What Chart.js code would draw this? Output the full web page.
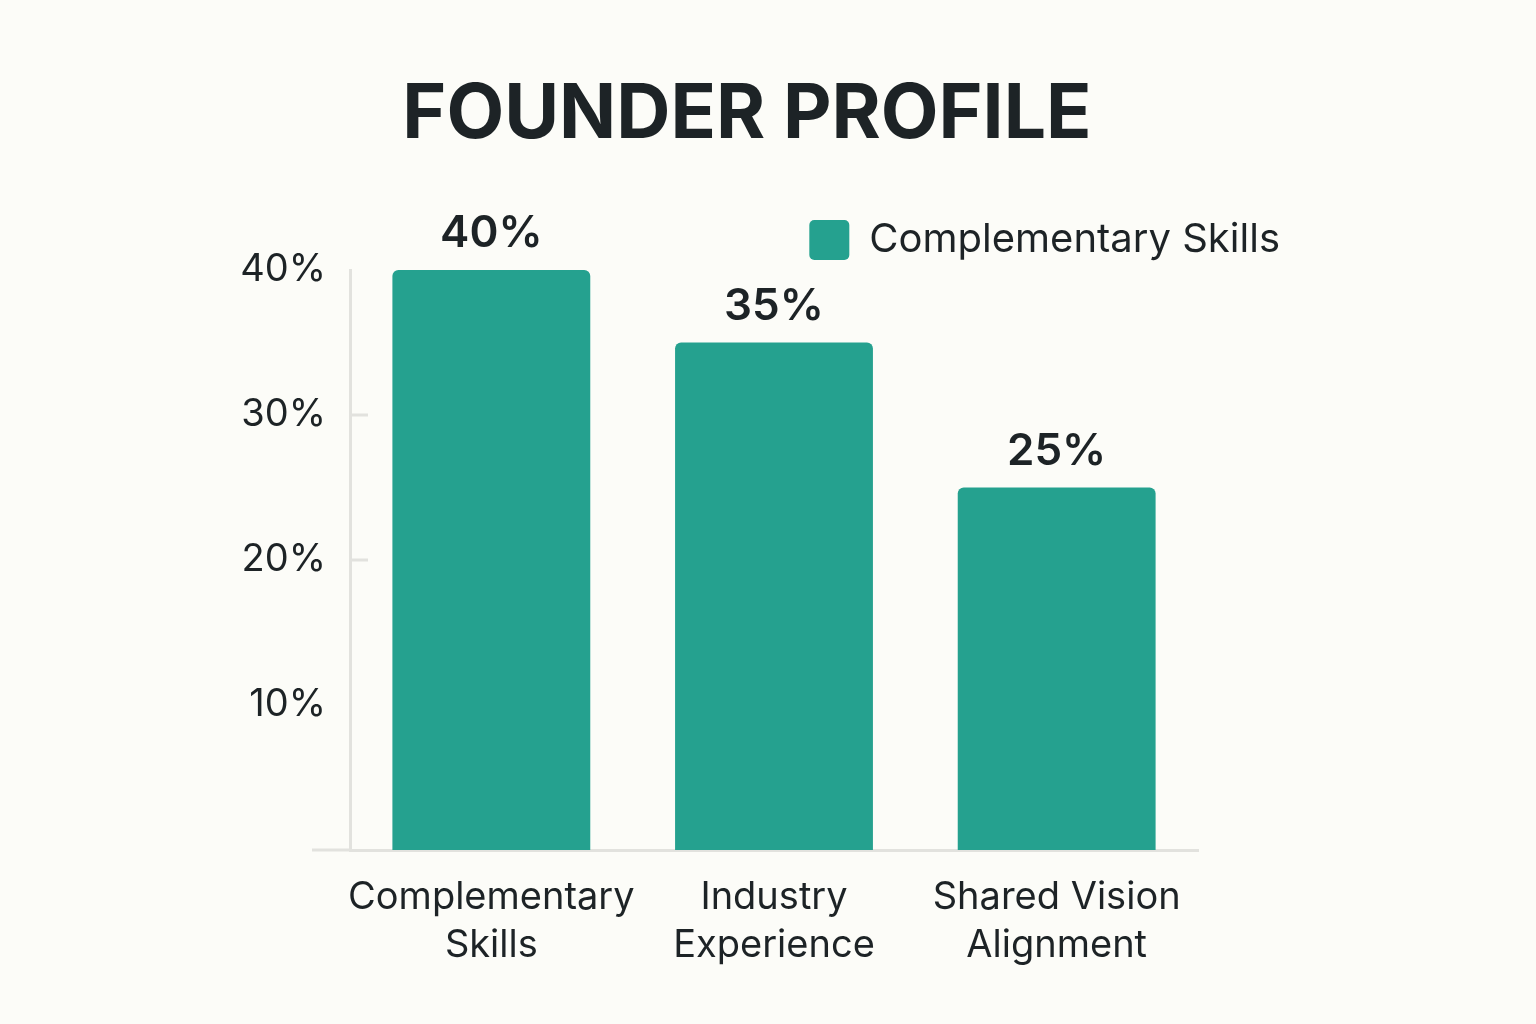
<!DOCTYPE html>
<html>
<head>
<meta charset="utf-8">
<script src="https://cdn.jsdelivr.net/npm/chart.js"></script>
<style>
  html, body { margin: 0; padding: 0; background: #fcfcf8; }
  #wrap { width: 1536px; height: 1024px; }
</style>
</head>
<body>
<div id="wrap"><canvas id="founderChart"></canvas></div>
<script>
// data
const categories = [['Complementary', 'Skills'], ['Industry', 'Experience'], ['Shared Vision', 'Alignment']];
const shares = [40, 35, 25];
const seriesName = 'Complementary Skills';
const yTicks = [10, 20, 30, 40];

const teal = '#25a18f';
const ink = '#1d2326';
const axisGrey = '#e2e2de';

// value labels above the bars
const barLabels = {
  id: 'barLabels',
  afterDatasetsDraw(chart) {
    const ctx = chart.ctx;
    const meta = chart.getDatasetMeta(0);
    ctx.save();
    ctx.font = '600 44px Inter';
    ctx.fillStyle = ink;
    ctx.textAlign = 'center';
    ctx.textBaseline = 'bottom';
    meta.data.forEach((bar, i) => {
      ctx.fillText(shares[i] + '%', bar.x, bar.y - 14);
    });
    ctx.restore();
  }
};

// small inward tick marks + x axis line running past the y axis
const axisExtras = {
  id: 'axisExtras',
  afterDraw(chart) {
    const ctx = chart.ctx;
    const y = chart.scales.y;
    const area = chart.chartArea;
    ctx.save();
    ctx.strokeStyle = axisGrey;
    ctx.lineWidth = 3;
    yTicks.slice(1, -1).forEach(v => {
      const py = y.getPixelForValue(v);
      ctx.beginPath();
      ctx.moveTo(area.left, py);
      ctx.lineTo(area.left + 18, py);
      ctx.stroke();
    });
    ctx.beginPath();
    ctx.moveTo(area.left - 38, area.bottom);
    ctx.lineTo(area.left, area.bottom);
    ctx.stroke();
    ctx.restore();
  }
};

const data = {
  labels: categories,
  datasets: [{
    label: seriesName,
    data: shares,
    backgroundColor: teal,
    borderRadius: 6,
    borderSkipped: 'start',
    categoryPercentage: 1,
    barPercentage: 0.7
  }]
};

const config = {
  type: 'bar',
  data: data,
  plugins: [barLabels, axisExtras],
  options: {
    responsive: true,
    maintainAspectRatio: false,
    animation: false,
    layout: { padding: { left: 204, right: 246, top: 0, bottom: 31 } },
    plugins: {
      title: {
        display: true,
        text: 'FOUNDER PROFILE',
        color: ink,
        font: { family: 'Inter', weight: 'bold', size: 75 },
        padding: { top: 70, bottom: 50 }
      },
      legend: {
        display: true,
        align: 'end',
        labels: {
          color: ink,
          font: { family: 'Inter', size: 40 },
          boxWidth: 40,
          boxHeight: 40,
          padding: 10,
          useBorderRadius: true,
          borderRadius: 5
        }
      },
      tooltip: { enabled: false }
    },
    scales: {
      x: {
        grid: { display: false, drawTicks: false },
        border: { display: true, color: axisGrey, width: 3 },
        ticks: {
          color: ink,
          font: { family: 'Inter', size: 38, lineHeight: 1.25 },
          padding: 24,
          maxRotation: 0,
          autoSkip: false
        }
      },
      y: {
        min: 0,
        max: 40,
        afterBuildTicks(scale) { scale.ticks = yTicks.map(v => ({ value: v })); },
        afterFit(scale) { scale.width = 146; },
        grid: { display: false, drawTicks: false },
        border: { display: true, color: axisGrey, width: 3 },
        ticks: {
          color: ink,
          font: { family: 'Inter', size: 38 },
          padding: 24,
          callback: v => v + '%'
        }
      },
      y2: {
        position: 'right',
        display: true,
        afterFit(scale) { scale.width = 92; },
        grid: { display: false, drawTicks: false },
        border: { display: false },
        ticks: { display: false }
      }
    }
  }
};

const founderChart = new Chart(document.getElementById('founderChart'), config);
</script>
</body>
</html>
